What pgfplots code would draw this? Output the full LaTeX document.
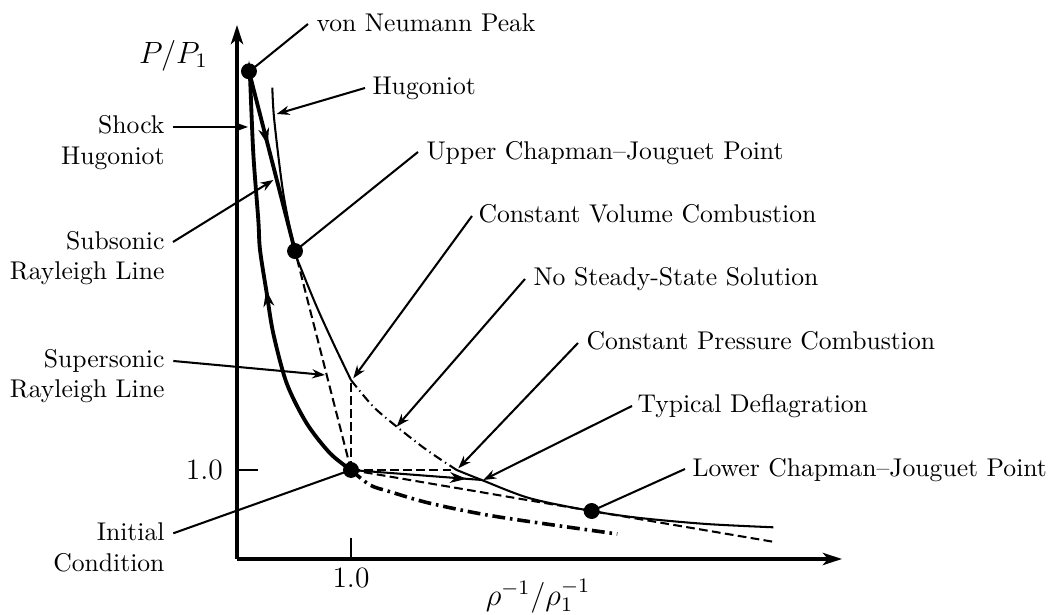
\documentclass[border=0pt]{standalone}
\usepackage{pgfplots}
\pgfplotsset{compat=1.18}
\usetikzlibrary{arrows.meta,decorations.markings}

% Hugoniot curve, upper (strong) branch: solid
\pgfplotstableread{
x      y
0.310  5.296
0.327  4.930
0.406  4.110
0.509  3.460
0.567  3.247
0.699  2.835
0.845  2.424
1.000  2.010
}\hugupper
% Hugoniot between constant-volume and constant-pressure states: no steady solution
\pgfplotstableread{
x      y
1.000  2.010
1.196  1.711
1.401  1.487
1.664  1.225
1.927  1.000
}\hugmiddle
% Hugoniot, lower (weak) branch: solid
\pgfplotstableread{
x      y
1.927  1.000
2.146  0.888
2.570  0.682
3.111  0.539
3.540  0.460
4.120  0.393
4.705  0.356
}\huglower
% Shock Hugoniot, from the initial state up to the von Neumann peak
\pgfplotstableread{
x      y
1.000  1.000
0.816  1.188
0.611  1.525
0.436  1.974
0.318  2.536
0.261  2.985
0.202  3.472
0.187  3.809
0.143  4.558
0.114  5.419
0.105  5.480
}\shockhug
% Shock Hugoniot continued below the initial state
\pgfplotstableread{
x      y
1.000  1.000
1.167  0.831
1.342  0.756
1.693  0.626
2.278  0.476
3.336  0.281
}\shockext

\tikzset{
  thinline/.style={line width=0.8pt},
  thickline/.style={line width=1.5pt},
  dashline/.style={line width=0.8pt, dash pattern=on 3.4pt off 1.7pt},
  dotdash/.style={line width=0.8pt, dash pattern=on 3.6pt off 1.6pt on 0.5pt off 1.6pt},
  thickdotdash/.style={line width=1.4pt, dash pattern=on 5pt off 1.9pt on 1pt off 1.9pt},
  midarrow/.style={postaction={decorate}, decoration={markings,
      mark=at position #1 with {\arrow{Stealth[length=6.5pt,width=4.2pt,inset=2pt]}}}},
  lead/.style={line width=0.8pt},
  leadarrow/.style={line width=0.8pt, -{Stealth[length=5pt,width=3.6pt,inset=1.6pt]}},
  lbl/.style={inner sep=0pt, font=\normalsize},
}

\begin{document}
\begin{tikzpicture}
\begin{axis}[
  at={(0pt,0pt)}, anchor=south west,
  scale only axis, width=235.95pt, height=208.26pt,
  xmin=0, xmax=5.307, ymin=0, ymax=6.0,
  axis lines=left,
  axis line style={line width=1.2pt, -{Stealth[length=7.5pt,width=4.8pt,inset=2pt]}},
  xtick={1}, xticklabels={1.0},
  ytick={1}, yticklabels={1.0},
  tick align=inside, major tick length=8.2pt,
  tick style={line width=0.8pt, black},
  ticklabel style={font=\fontsize{11.5}{14}\selectfont},
  yticklabel style={xshift=-2pt},
  xlabel={$\rho^{-1}/\rho_1^{-1}$},
  ylabel={$P/P_1$},
  every axis x label/.style={at={(rel axis cs:0.4975,-0.037)}, anchor=north, inner sep=0pt, font=\large},
  every axis y label/.style={at={(rel axis cs:-0.105,0.9288)}, anchor=base, inner sep=0pt, font=\large},
  clip=false,
]
% Hugoniot
\addplot[thinline, smooth, tension=0.5] table {\hugupper};
\addplot[dotdash, smooth, tension=0.5] table {\hugmiddle};
\addplot[thinline, smooth, tension=0.5] table {\huglower};
% Shock Hugoniot
\addplot[thickline, smooth, tension=0.5, midarrow=0.48] table {\shockhug};
\addplot[thickdotdash, smooth, tension=0.5] table {\shockext};
% Rayleigh lines
\addplot[thickline, midarrow=0.41] coordinates {(0.105,5.480) (0.509,3.460)};
\addplot[dashline] coordinates {(1,1) (0.509,3.460)};
\addplot[dashline] coordinates {(1,1) (1,2.010)};
\addplot[dashline] coordinates {(1,1) (1.927,1.000)};
\addplot[dashline] coordinates {(1,1) (3.111,0.539) (4.720,0.190)};
\addplot[thinline, midarrow=0.885] coordinates {(1,1) (2.146,0.888)};
% Named states
\addplot[only marks, mark=*, mark size=2.9pt, black]
  coordinates {(0.105,5.480) (0.509,3.460) (1,1) (3.111,0.539)};
\end{axis}

\begin{scope}[x=0.39pt, y=-0.39pt, shift={(-237,-559)}]
% leader lines
\draw[lead] (250,71) -- (308,24);
\draw[leadarrow] (365,88) -- (276.7,114);
\draw[leadarrow] (173,127) -- (248,127);
\draw[leadarrow] (173,242) -- (273.3,180);
\draw[lead] (418,152) -- (295,251);
\draw[leadarrow] (472,216) -- (353.3,378.3);
\draw[leadarrow] (525,279) -- (396.7,426.7);
\draw[leadarrow] (173.3,361) -- (325,375);
\draw[leadarrow] (578,343) -- (458.3,468.3);
\draw[leadarrow] (632,406) -- (483.3,480);
\draw[lead] (173.3,533.3) -- (351,470);
\draw[lead] (685,469) -- (591.7,511);
% labels on the right
\node[lbl, anchor=base west] at (316,32) {von Neumann Peak};
\node[lbl, anchor=base west] at (372,95) {Hugoniot};
\node[lbl, anchor=base west] at (426,159.3) {Upper Chapman--Jouguet Point};
\node[lbl, anchor=base west] at (478,222.3) {Constant Volume Combustion};
\node[lbl, anchor=base west] at (533,286) {No Steady-State Solution};
\node[lbl, anchor=base west] at (586,349.3) {Constant Pressure Combustion};
\node[lbl, anchor=base west] at (637,412.7) {Typical Deflagration};
\node[lbl, anchor=base west] at (692,476.7) {Lower Chapman--Jouguet Point};
% labels on the left
\node[lbl, anchor=base east] at (165,134) {Shock};
\node[lbl, anchor=base east] at (165,164.3) {Hugoniot};
\node[lbl, anchor=base east] at (165,249.3) {Subsonic};
\node[lbl, anchor=base east] at (165,279.3) {Rayleigh Line};
\node[lbl, anchor=base east] at (165,367.7) {Supersonic};
\node[lbl, anchor=base east] at (165,397.3) {Rayleigh Line};
\node[lbl, anchor=base east] at (165,540.7) {Initial};
\node[lbl, anchor=base east] at (165,571.7) {Condition};
\pgfresetboundingbox
\useasboundingbox (0,0) rectangle (1051,615);
\end{scope}
\end{tikzpicture}
\end{document}
